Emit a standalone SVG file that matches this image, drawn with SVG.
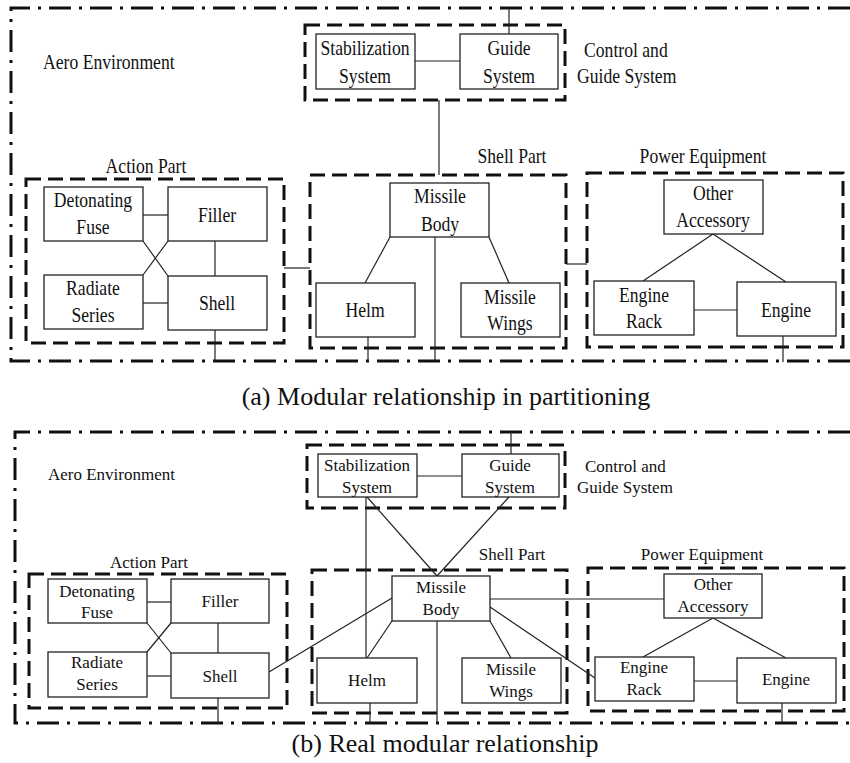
<svg xmlns="http://www.w3.org/2000/svg" width="850" height="763" viewBox="0 0 850 763">
<style>
text{font-family:"Liberation Serif","Times New Roman",serif;fill:#111}
.ta{font-size:21px;text-anchor:middle}
.tas{font-size:21px}
.tb{font-size:17px;text-anchor:middle}
.tbs{font-size:17px}
.cap{font-size:26px;text-anchor:middle}
.box{fill:#fff;stroke:#222;stroke-width:1.3}
.ln{fill:none;stroke:#222;stroke-width:1.2}
.grp{fill:none;stroke:#111;stroke-width:3;stroke-dasharray:15 7}
.env{fill:none;stroke:#111;stroke-width:3;stroke-dasharray:22 8 3 8}
</style>
<rect width="850" height="763" fill="#fff"/>

<!-- ================= Panel (a) ================= -->
<g id="a-env">
<path class="env" d="M850,8 H11 V361 H850"/>
<text class="tas" transform="translate(43,69) scale(0.84,1)">Aero Environment</text>
</g>
<g id="a-control-group">
<rect class="grp" x="305" y="25" width="260" height="75"/>
<text class="tas" transform="translate(584,57) scale(0.84,1)">Control and</text>
<text class="tas" transform="translate(577,83) scale(0.84,1)">Guide System</text>
</g>
<g id="a-action-group">
<rect class="grp" x="26" y="179" width="258" height="164"/>
<text class="ta" transform="translate(146,173) scale(0.84,1)">Action Part</text>
</g>
<g id="a-shell-group">
<rect class="grp" x="310" y="175" width="256" height="173"/>
<text class="ta" transform="translate(512,163) scale(0.84,1)">Shell Part</text>
</g>
<g id="a-power-group">
<rect class="grp" x="587" y="173" width="256" height="174"/>
<text class="ta" transform="translate(703,163) scale(0.84,1)">Power Equipment</text>
</g>

<g id="a-connectors">
<line class="ln" x1="415" y1="61" x2="460" y2="61"/>
<line class="ln" x1="509" y1="34" x2="509" y2="8"/>
<line class="ln" x1="439" y1="100" x2="439" y2="175"/>
<line class="ln" x1="143" y1="215" x2="168" y2="215"/>
<line class="ln" x1="143" y1="303" x2="168" y2="303"/>
<line class="ln" x1="143" y1="241" x2="168" y2="276"/>
<line class="ln" x1="143" y1="275" x2="168" y2="241"/>
<line class="ln" x1="215" y1="241" x2="215" y2="276"/>
<line class="ln" x1="215" y1="330" x2="215" y2="361"/>
<line class="ln" x1="284" y1="268" x2="310" y2="268"/>
<line class="ln" x1="390" y1="237" x2="365" y2="283"/>
<line class="ln" x1="489" y1="237" x2="509" y2="283"/>
<line class="ln" x1="435" y1="237" x2="435" y2="361"/>
<line class="ln" x1="368" y1="337" x2="368" y2="361"/>
<line class="ln" x1="566" y1="264" x2="587" y2="264"/>
<line class="ln" x1="713" y1="234" x2="643" y2="281"/>
<line class="ln" x1="713" y1="234" x2="786" y2="282"/>
<line class="ln" x1="694" y1="310" x2="737" y2="310"/>
<line class="ln" x1="783" y1="336" x2="783" y2="362"/>
</g>

<g id="a-stabilization">
<rect class="box" x="316" y="34" width="99" height="55"/>
<text class="ta" transform="translate(365,55) scale(0.84,1)">Stabilization</text>
<text class="ta" transform="translate(365,83) scale(0.84,1)">System</text>
</g>
<g id="a-guide">
<rect class="box" x="460" y="34" width="98" height="55"/>
<text class="ta" transform="translate(509,55) scale(0.84,1)">Guide</text>
<text class="ta" transform="translate(509,83) scale(0.84,1)">System</text>
</g>
<g id="a-detonating">
<rect class="box" x="44" y="187" width="99" height="54"/>
<text class="ta" transform="translate(93,207) scale(0.84,1)">Detonating</text>
<text class="ta" transform="translate(93,234) scale(0.84,1)">Fuse</text>
</g>
<g id="a-filler">
<rect class="box" x="168" y="187" width="99" height="54"/>
<text class="ta" transform="translate(217,222) scale(0.84,1)">Filler</text>
</g>
<g id="a-radiate">
<rect class="box" x="44" y="275" width="99" height="54"/>
<text class="ta" transform="translate(93,295) scale(0.84,1)">Radiate</text>
<text class="ta" transform="translate(93,322) scale(0.84,1)">Series</text>
</g>
<g id="a-shell">
<rect class="box" x="168" y="276" width="99" height="54"/>
<text class="ta" transform="translate(217,310) scale(0.84,1)">Shell</text>
</g>
<g id="a-missile-body">
<rect class="box" x="390" y="183" width="99" height="54"/>
<text class="ta" transform="translate(440,203) scale(0.84,1)">Missile</text>
<text class="ta" transform="translate(440,231) scale(0.84,1)">Body</text>
</g>
<g id="a-helm">
<rect class="box" x="316" y="283" width="99" height="54"/>
<text class="ta" transform="translate(365,317) scale(0.84,1)">Helm</text>
</g>
<g id="a-wings">
<rect class="box" x="461" y="283" width="99" height="54"/>
<text class="ta" transform="translate(510,304) scale(0.84,1)">Missile</text>
<text class="ta" transform="translate(510,330) scale(0.84,1)">Wings</text>
</g>
<g id="a-other">
<rect class="box" x="664" y="180" width="99" height="54"/>
<text class="ta" transform="translate(713,200) scale(0.84,1)">Other</text>
<text class="ta" transform="translate(713,227) scale(0.84,1)">Accessory</text>
</g>
<g id="a-engine-rack">
<rect class="box" x="594" y="281" width="100" height="54"/>
<text class="ta" transform="translate(644,302) scale(0.84,1)">Engine</text>
<text class="ta" transform="translate(644,328) scale(0.84,1)">Rack</text>
</g>
<g id="a-engine">
<rect class="box" x="737" y="282" width="99" height="54"/>
<text class="ta" transform="translate(786,317) scale(0.84,1)">Engine</text>
</g>

<text class="cap" x="446" y="405">(a) Modular relationship in partitioning</text>

<!-- ================= Panel (b) ================= -->
<g id="b-env">
<path class="env" d="M850,432 H15 V723 H850"/>
<text class="tbs" x="48" y="480">Aero Environment</text>
</g>
<g id="b-control-group">
<rect class="grp" x="307" y="445" width="258" height="63"/>
<text class="tbs" x="585" y="472">Control and</text>
<text class="tbs" x="577" y="493">Guide System</text>
</g>
<g id="b-action-group">
<rect class="grp" x="29" y="574" width="258" height="134"/>
<text class="tb" x="149" y="568">Action Part</text>
</g>
<g id="b-shell-group">
<rect class="grp" x="312" y="570" width="255" height="143"/>
<text class="tb" x="512" y="560">Shell Part</text>
</g>
<g id="b-power-group">
<rect class="grp" x="588" y="568" width="256" height="143"/>
<text class="tb" x="702" y="560">Power Equipment</text>
</g>

<g id="b-connectors">
<line class="ln" x1="417" y1="476" x2="462" y2="476"/>
<line class="ln" x1="511" y1="454" x2="511" y2="432"/>
<line class="ln" x1="366" y1="497" x2="366" y2="658"/>
<line class="ln" x1="367" y1="497" x2="437" y2="576"/>
<line class="ln" x1="509" y1="497" x2="437" y2="576"/>
<line class="ln" x1="147" y1="602" x2="171" y2="602"/>
<line class="ln" x1="147" y1="676" x2="171" y2="676"/>
<line class="ln" x1="147" y1="623" x2="171" y2="653"/>
<line class="ln" x1="147" y1="652" x2="171" y2="623"/>
<line class="ln" x1="218" y1="623" x2="218" y2="653"/>
<line class="ln" x1="218" y1="698" x2="218" y2="723"/>
<line class="ln" x1="269" y1="672" x2="392" y2="598"/>
<line class="ln" x1="392" y1="621" x2="367" y2="658"/>
<line class="ln" x1="490" y1="621" x2="511" y2="658"/>
<line class="ln" x1="437" y1="621" x2="437" y2="723"/>
<line class="ln" x1="370" y1="703" x2="370" y2="723"/>
<line class="ln" x1="490" y1="599" x2="664" y2="599"/>
<line class="ln" x1="490" y1="607" x2="595" y2="678"/>
<line class="ln" x1="713" y1="618" x2="643" y2="657"/>
<line class="ln" x1="713" y1="618" x2="786" y2="658"/>
<line class="ln" x1="694" y1="681" x2="737" y2="681"/>
<line class="ln" x1="782" y1="703" x2="782" y2="724"/>
</g>

<g id="b-stabilization">
<rect class="box" x="318" y="454" width="99" height="43"/>
<text class="tb" x="367" y="471">Stabilization</text>
<text class="tb" x="367" y="493">System</text>
</g>
<g id="b-guide">
<rect class="box" x="462" y="454" width="97" height="43"/>
<text class="tb" x="510" y="471">Guide</text>
<text class="tb" x="510" y="493">System</text>
</g>
<g id="b-detonating">
<rect class="box" x="48" y="579" width="99" height="44"/>
<text class="tb" x="97" y="597">Detonating</text>
<text class="tb" x="97" y="618">Fuse</text>
</g>
<g id="b-filler">
<rect class="box" x="171" y="579" width="98" height="44"/>
<text class="tb" x="220" y="607">Filler</text>
</g>
<g id="b-radiate">
<rect class="box" x="48" y="652" width="99" height="45"/>
<text class="tb" x="97" y="668">Radiate</text>
<text class="tb" x="97" y="690">Series</text>
</g>
<g id="b-shell">
<rect class="box" x="171" y="653" width="98" height="45"/>
<text class="tb" x="220" y="682">Shell</text>
</g>
<g id="b-missile-body">
<rect class="box" x="392" y="576" width="98" height="45"/>
<text class="tb" x="441" y="593">Missile</text>
<text class="tb" x="441" y="615">Body</text>
</g>
<g id="b-helm">
<rect class="box" x="317" y="658" width="100" height="45"/>
<text class="tb" x="367" y="686">Helm</text>
</g>
<g id="b-wings">
<rect class="box" x="462" y="658" width="99" height="45"/>
<text class="tb" x="511" y="675">Missile</text>
<text class="tb" x="511" y="697">Wings</text>
</g>
<g id="b-other">
<rect class="box" x="664" y="574" width="98" height="44"/>
<text class="tb" x="713" y="590">Other</text>
<text class="tb" x="713" y="612">Accessory</text>
</g>
<g id="b-engine-rack">
<rect class="box" x="595" y="657" width="99" height="44"/>
<text class="tb" x="644" y="673">Engine</text>
<text class="tb" x="644" y="695">Rack</text>
</g>
<g id="b-engine">
<rect class="box" x="737" y="658" width="99" height="45"/>
<text class="tb" x="786" y="685">Engine</text>
</g>

<text class="cap" x="445" y="752">(b) Real modular relationship</text>
</svg>
